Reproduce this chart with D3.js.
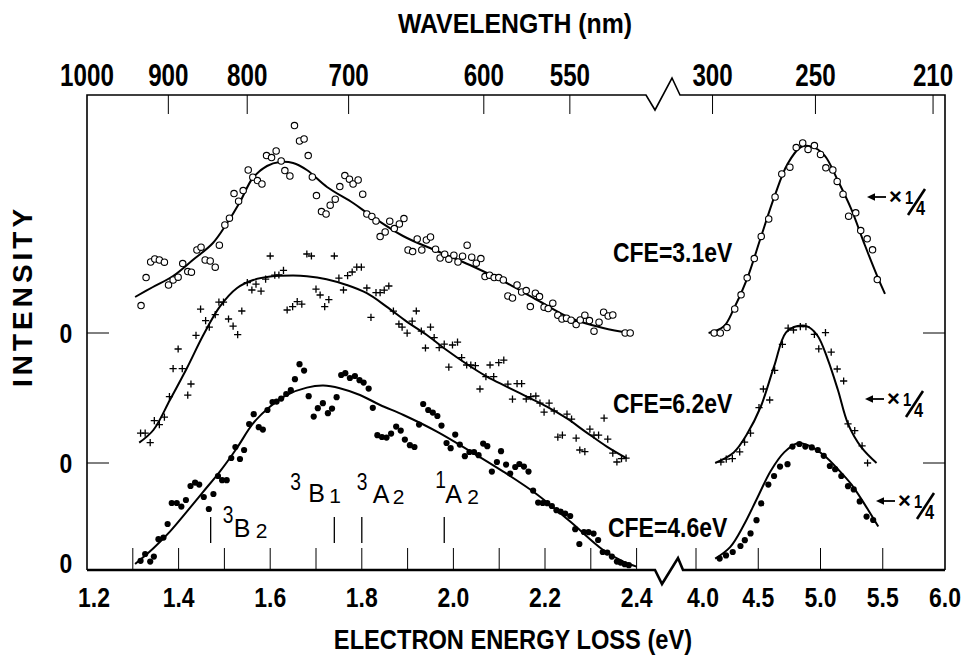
<!DOCTYPE html>
<html>
<head>
<meta charset="utf-8">
<script src="https://cdn.jsdelivr.net/npm/d3@7"></script>
<style>
  body { margin: 0; background: #fff; }
  svg text { font-family: "Liberation Sans", Arial, "DejaVu Sans", sans-serif; font-weight: bold; fill: #000; }
  svg text.state { font-weight: normal; }
</style>
</head>
<body>
<svg id="chart" width="964" height="656"></svg>
<script>
// energies in eV, intensities in arbitrary units above each curve's own zero line
var HC = 1239.84;

var lowLabels = [1.2, 1.4, 1.6, 1.8, 2.0, 2.2, 2.4];
var lowTicks = [1.3, 1.4, 1.5, 1.6, 1.7, 1.8, 1.9, 2.0, 2.1, 2.2, 2.3, 2.4];
var highLabels = [4.0, 4.5, 5.0, 5.5, 6.0];
var highTicks = [4.0, 4.5, 5.0, 5.5];
var waveLabels = [1000, 900, 800, 700, 600, 550, 300, 250, 210];

var stateNames = [["3", "B", "2"], ["3", "B", "1"], ["3", "A", "2"], ["1", "A", "2"]];
var stateEnergies = [1.47, 1.74, 1.80, 1.98];

// CFE = 3.1 eV (open circles)
var cfe31Vis = [[1.318,13.7],[1.329,27.7],[1.339,35.5],[1.348,37],[1.358,36.5],[1.369,35.4],[1.378,24],[1.388,26.5],[1.399,27.9],[1.409,34.7],[1.420,30.7],[1.428,30.4],[1.440,41.5],[1.449,42.9],[1.458,36.5],[1.469,36],[1.480,32.9],[1.489,43.9],[1.501,54],[1.511,57.4],[1.521,69.7],[1.531,65.9],[1.541,71.2],[1.552,81.5],[1.562,77.9],[1.572,76.2],[1.582,74.5],[1.592,88.7],[1.603,87.7],[1.613,91],[1.624,86],[1.632,81.2],[1.643,78.5],[1.653,103.7],[1.664,96],[1.674,97],[1.683,88.7],[1.692,78],[1.701,68.7],[1.712,60.7],[1.722,59.5],[1.731,63.9],[1.742,66.9],[1.752,73.2],[1.763,78.7],[1.773,76.9],[1.781,74.5],[1.792,76.5],[1.802,69.4],[1.811,59.5],[1.822,58.3],[1.831,56],[1.840,48.2],[1.851,50.5],[1.861,55.9],[1.871,52.2],[1.882,54.5],[1.892,57.2],[1.901,41.5],[1.911,40.7],[1.921,47],[1.931,41.5],[1.941,46.5],[1.950,48],[1.961,41.9],[1.971,37.5],[1.981,39.4],[1.990,36.9],[2.001,38.9],[2.010,35.5],[2.020,38.4],[2.030,43.9],[2.040,37.9],[2.050,34.9],[2.060,37.2],[2.069,28.2],[2.079,28.9],[2.089,27.7],[2.099,27.7],[2.109,26.5],[2.119,18.5],[2.129,17.5],[2.139,24],[2.149,20.5],[2.159,21.2],[2.168,13.2],[2.179,19.9],[2.188,18.2],[2.198,12.9],[2.207,12.2],[2.217,14.9],[2.228,8.9],[2.237,7],[2.247,7.4],[2.257,6.4],[2.268,4.2],[2.277,6.5],[2.287,8.9],[2.297,6.2],[2.307,0.9],[2.318,5.4],[2.328,10.4],[2.338,8.5],[2.348,9],[2.375,0],[2.386,0]];
var cfe31VisFit = [[1.305,18],[1.344,23],[1.388,28.5],[1.431,36.5],[1.475,45],[1.506,55],[1.534,65.5],[1.562,77.5],[1.593,83.5],[1.621,85.5],[1.650,85],[1.680,81.5],[1.724,73],[1.781,65],[1.818,59],[1.890,48.5],[1.964,41],[2.036,34],[2.108,26],[2.183,16.5],[2.255,7.5],[2.327,2.5],[2.386,0]];
var cfe31Uv = [[4.146,0],[4.195,0],[4.249,2.7],[4.311,12],[4.362,19.1],[4.411,27.6],[4.468,37.2],[4.524,48.3],[4.584,57],[4.635,68],[4.689,79.5],[4.754,82.9],[4.805,92.7],[4.857,95],[4.900,91.8],[4.951,93.7],[5.000,89.3],[5.043,82.6],[5.099,81.5],[5.134,75.8],[5.181,69.4],[5.226,58.4],[5.283,60.1],[5.323,51.2],[5.375,47.1],[5.418,41.6],[5.456,26.7]];
var cfe31UvFit = [[4.101,0],[4.222,3.2],[4.303,12],[4.411,27.2],[4.519,47.5],[4.627,67.7],[4.735,84.5],[4.843,93],[4.924,93.3],[5.032,88.8],[5.140,76.1],[5.248,61.8],[5.356,44],[5.464,27.2],[5.518,19.6]];

// CFE = 6.2 eV (plus signs)
var cfe62Vis = [[1.317,14.9],[1.327,14.9],[1.338,10.2],[1.347,21.2],[1.358,19.2],[1.369,22.9],[1.380,33.2],[1.388,47.2],[1.399,57],[1.408,47.2],[1.420,33.9],[1.427,39.5],[1.438,63.8],[1.448,76.9],[1.459,71.2],[1.467,67.9],[1.480,74.2],[1.488,80.4],[1.498,80.4],[1.509,72],[1.519,68.4],[1.529,64.2],[1.538,76],[1.550,90.2],[1.560,86.5],[1.569,89.4],[1.580,85.9],[1.590,91.9],[1.600,103.5],[1.610,93.9],[1.619,94],[1.629,96.3],[1.637,76.5],[1.649,78.2],[1.659,80.7],[1.669,79.4],[1.680,104.5],[1.690,103.5],[1.700,86.9],[1.709,84],[1.719,78.2],[1.728,81.7],[1.740,103.5],[1.750,92.4],[1.760,86.5],[1.769,93.7],[1.779,95.5],[1.789,97.9],[1.799,97.9],[1.811,87.5],[1.820,72.8],[1.831,85.2],[1.840,85.2],[1.849,86.4],[1.859,88.5],[1.869,75.9],[1.881,69.5],[1.888,67.9],[1.899,64.9],[1.910,70.9],[1.919,76],[1.930,65.9],[1.939,57.5],[1.950,67.9],[1.958,62.7],[1.969,57.7],[1.980,59.4],[1.990,47.9],[1.998,59],[2.009,60.4],[2.018,52.7],[2.029,49],[2.038,49],[2.048,48.7],[2.058,37],[2.071,43.2],[2.080,49],[2.088,43.2],[2.099,50.2],[2.110,51.4],[2.119,39.4],[2.129,31.9],[2.139,39.7],[2.149,39.7],[2.159,32],[2.169,33.2],[2.180,33.5],[2.189,29.9],[2.198,25.4],[2.209,29.9],[2.220,26],[2.228,12.9],[2.238,13.9],[2.248,24.4],[2.258,21.9],[2.268,12.4],[2.276,6.5],[2.287,5.7],[2.298,16.9],[2.307,13.9],[2.317,13.9],[2.329,22.4],[2.337,11.9],[2.348,4.9],[2.357,0.5],[2.367,2.2],[2.377,2.4]];
var cfe62VisFit = [[1.314,10.2],[1.345,16.5],[1.381,31.5],[1.418,47.4],[1.454,64],[1.490,78.2],[1.527,87.4],[1.563,91.5],[1.600,93.2],[1.650,93.7],[1.680,93.4],[1.723,91.9],[1.767,89],[1.811,84.9],[1.854,78.2],[1.898,70.7],[1.942,64],[1.985,56.5],[2.029,49.5],[2.073,43.2],[2.116,38.2],[2.160,33.2],[2.204,28.2],[2.247,22.4],[2.291,15.2],[2.335,8.2],[2.378,2.4]];
var cfe62Uv = [[4.200,0.5],[4.243,1.9],[4.292,2.2],[4.351,5.6],[4.390,10.4],[4.438,14.9],[4.506,27.7],[4.541,37],[4.592,31.5],[4.632,46.3],[4.694,59.3],[4.740,67.4],[4.783,66.5],[4.838,68.2],[4.883,68.2],[4.951,64.3],[4.986,57.1],[5.040,65.2],[5.086,55.4],[5.134,47],[5.186,41],[5.221,19.6],[5.275,16.2],[5.334,8.6],[5.378,0]];
var cfe62UvFit = [[4.154,0],[4.303,5.3],[4.411,14.6],[4.519,28],[4.627,48.3],[4.722,65.2],[4.816,68.5],[4.897,68.2],[4.978,63.5],[5.059,51.7],[5.140,36.5],[5.221,19.6],[5.329,7.8],[5.450,0]];

// CFE = 4.6 eV (filled dots)
var cfe46Vis = [[1.317,4.6],[1.327,8],[1.338,4.2],[1.346,6.7],[1.356,15.4],[1.367,16.2],[1.376,23],[1.385,33.5],[1.396,33.5],[1.406,31.7],[1.416,35],[1.426,42],[1.436,43.7],[1.445,42.7],[1.455,36.5],[1.466,30.5],[1.476,38],[1.486,47],[1.495,44.9],[1.505,44.9],[1.515,56],[1.524,61.5],[1.534,55.5],[1.543,60],[1.554,73],[1.564,77.9],[1.575,71.4],[1.584,70.2],[1.594,80],[1.605,84],[1.614,84.2],[1.624,85.7],[1.635,88],[1.645,89.9],[1.654,95.4],[1.664,102.9],[1.674,99.7],[1.684,86.9],[1.695,76.7],[1.704,80.9],[1.715,83.4],[1.726,78.4],[1.735,80.7],[1.745,86.4],[1.755,97.5],[1.764,98.4],[1.774,96],[1.785,97],[1.795,94.9],[1.804,93.7],[1.815,90.7],[1.824,81.1],[1.834,67.4],[1.844,66.5],[1.854,66.2],[1.864,68.2],[1.875,71.7],[1.885,69.7],[1.894,65.2],[1.905,62.4],[1.915,61.5],[1.925,72.7],[1.934,83],[1.945,80],[1.955,78.7],[1.965,77],[1.974,72.2],[1.985,63.5],[1.994,60.9],[2.004,67.7],[2.014,62.7],[2.025,56.9],[2.035,59],[2.045,59],[2.055,57.4],[2.065,63.2],[2.074,61.9],[2.084,49.2],[2.095,54],[2.104,59.4],[2.115,52.7],[2.124,48.2],[2.135,51.5],[2.144,53],[2.154,51.7],[2.164,49.2],[2.174,39.7],[2.185,33.7],[2.195,33.5],[2.205,33.4],[2.215,32],[2.225,29.9],[2.234,29.2],[2.244,28.2],[2.255,27],[2.266,20.4],[2.275,13],[2.285,19],[2.295,18.9],[2.306,18.2],[2.316,15],[2.326,9],[2.336,8.7],[2.346,6.7],[2.357,4.2],[2.365,3.7],[2.374,2.9],[2.383,2.4]];
var cfe46VisFit = [[1.305,3],[1.345,10.9],[1.381,19.2],[1.418,29.2],[1.454,39.2],[1.490,49.2],[1.527,60.9],[1.563,73.4],[1.600,81.7],[1.636,87.5],[1.680,91.2],[1.716,92.2],[1.752,90.9],[1.796,87.5],[1.840,82.5],[1.891,77.5],[1.964,69.2],[2.036,59.5],[2.109,49.2],[2.182,37.9],[2.255,24.2],[2.327,10],[2.371,4.2],[2.400,1.7]];
var cfe46Uv = [[4.190,5.7],[4.241,7.3],[4.295,9],[4.357,12],[4.392,14.9],[4.438,18.3],[4.486,24.9],[4.524,33.3],[4.581,42.7],[4.627,47],[4.675,51.7],[4.735,52.9],[4.775,61.7],[4.830,63],[4.878,61.7],[4.930,61.3],[4.978,60],[5.026,57.1],[5.075,52],[5.118,50.4],[5.167,47],[5.221,41.9],[5.267,40.3],[5.315,34.3],[5.370,26.7],[5.423,25]];
var cfe46UvFit = [[4.154,5.7],[4.276,11.6],[4.384,22.5],[4.492,36],[4.600,49.5],[4.708,58.8],[4.816,63.4],[4.924,61.7],[5.032,57.1],[5.140,50.4],[5.248,42.8],[5.356,32.7],[5.464,21.7]];

var panels = [
  {label: "CFE=3.1eV", offset: 118.5, mark: "ring", vis: cfe31Vis, visFit: cfe31VisFit, uv: cfe31Uv, uvFit: cfe31UvFit},
  {label: "CFE=6.2eV", offset: 53.5, mark: "plus", vis: cfe62Vis, visFit: cfe62VisFit, uv: cfe62Uv, uvFit: cfe62UvFit},
  {label: "CFE=4.6eV", offset: 0, mark: "dot", vis: cfe46Vis, visFit: cfe46VisFit, uv: cfe46Uv, uvFit: cfe46UvFit}
];

// layout
var frame = {left: 87, right: 945, top: 95, bottom: 570};
var labelPos = [{x: 613, y: 262}, {x: 613, y: 413}, {x: 608, y: 537}];
var notePos = [{x: 867, y: 201}, {x: 865, y: 403}, {x: 876, y: 505}];
var stateLayout = [
  {sup: [12, 523], main: [23, 537], sub: [45, 538]},
  {sup: [-44, 490], main: [-26, 502], sub: [-5, 503]},
  {sup: [-5, 490], main: [11, 503], sub: [31, 504]},
  {sup: [-9, 488], main: [1, 503], sub: [23, 504]}
];

var svg = d3.select("#chart");

// text squeezed horizontally to imitate the condensed lettering of the original
var ntext = function(parent, x, y, str, size, anchor, sx, cls) {
  return parent.append("text")
    .attr("class", cls || null)
    .attr("transform", "translate(" + x + "," + y + ") scale(" + (sx || 0.82) + ",1)")
    .attr("text-anchor", anchor || "start")
    .attr("font-size", size)
    .text(str);
};

var xLow = d3.scaleLinear().domain([1.2, 2.4]).range([frame.left, 636.6]);
var xHigh = d3.scaleLinear().domain([4.0, 6.0]).range([696, frame.right]);
var xE = function(e) { return e < 3 ? xLow(e) : xHigh(e); };
var y = d3.scaleLinear().domain([0, 237.5]).range([frame.bottom, frame.top]);

// frame with the axis breaks
svg.append("path")
  .attr("d", "M" + frame.left + "," + frame.bottom + "V" + frame.top + "H646L655,110L672,78L680," + frame.top +
             "H" + frame.right + "V" + frame.bottom)
  .attr("fill", "none").attr("stroke", "#000").attr("stroke-width", 1.6);
svg.append("path")
  .attr("d", "M" + frame.left + "," + frame.bottom + "H655L662,584L678,558L683," + frame.bottom + "H" + frame.right)
  .attr("fill", "none").attr("stroke", "#000").attr("stroke-width", 2.6);

// bottom ticks and labels
var bt = lowTicks.map(xLow).concat(highTicks.map(xHigh));
svg.selectAll(".btick").data(bt).enter().append("line")
  .attr("x1", d => d).attr("x2", d => d)
  .attr("y1", frame.bottom).attr("y2", frame.bottom - 22)
  .attr("stroke", "#000").attr("stroke-width", 1);

lowLabels.forEach(function(v, i) { ntext(svg, xLow(v) + (i === 0 ? 7 : 0), 607, v.toFixed(1), 28, "middle"); });
highLabels.forEach(function(v, i) { ntext(svg, xHigh(v) + (i === 0 ? 7 : 0), 607, v.toFixed(1), 28, "middle"); });

// top wavelength axis
waveLabels.forEach(function(d) {
  var x = xE(HC / d);
  if (x < frame.left + 25) {
    x = frame.left;            // 1000 nm sits on the corner in the original
  } else {
    svg.append("line").attr("x1", x).attr("x2", x).attr("y1", frame.top).attr("y2", frame.top + 19)
      .attr("stroke", "#000").attr("stroke-width", 1);
  }
  ntext(svg, x, 86, String(d), 31, "middle", 0.78);
});

// zero lines: left and right ticks, left labels
panels.forEach(function(p) {
  var yz = y(p.offset);
  if (p.offset > 0) {
    svg.append("line").attr("x1", frame.left).attr("x2", frame.left + 22).attr("y1", yz).attr("y2", yz)
      .attr("stroke", "#000").attr("stroke-width", 1);
    svg.append("line").attr("x1", frame.right - 22).attr("x2", frame.right).attr("y1", yz).attr("y2", yz)
      .attr("stroke", "#000").attr("stroke-width", 1);
  }
  ntext(svg, 66, yz + (p.offset > 0 ? 10 : 3), "0", 28, "middle");
});

// curves and markers
var ring = function(g) { g.append("circle").attr("r", 3.2).attr("fill", "#fff").attr("stroke", "#000").attr("stroke-width", 1.1); };
var dot = function(g) { g.append("circle").attr("r", 3.1).attr("fill", "#000"); };
var plus = function(g) { g.append("path").attr("d", "M-3.6,0H3.6M0,-3.6V3.6").attr("stroke", "#000").attr("stroke-width", 1.3); };
var markers = {ring: ring, dot: dot, plus: plus};

panels.forEach(function(p, i) {
  var line = d3.line()
    .x(d => xE(d[0]))
    .y(d => y(d[1] + p.offset))
    .curve(d3.curveCatmullRom.alpha(0.5));

  [p.visFit, p.uvFit].forEach(function(fit) {
    svg.append("path").attr("d", line(fit))
      .attr("fill", "none").attr("stroke", "#000").attr("stroke-width", 2);
  });

  var pts = p.vis.concat(p.uv);
  svg.append("g").selectAll("g").data(pts).enter().append("g")
    .attr("transform", d => "translate(" + xE(d[0]) + "," + y(d[1] + p.offset) + ")")
    .each(function() { markers[p.mark](d3.select(this)); });

  ntext(svg, labelPos[i].x, labelPos[i].y, p.label, 28);

  // "<- x 1/4" scale note on the UV peak
  var n = svg.append("g").attr("transform", "translate(" + notePos[i].x + "," + notePos[i].y + ")");
  n.append("path").attr("d", "M3,-4H19").attr("stroke", "#000").attr("stroke-width", 1.8);
  n.append("path").attr("d", "M0,-4L8,-7.8L8,-0.2Z").attr("fill", "#000");
  n.append("text").attr("x", 22).attr("y", 3).attr("font-size", 22).attr("font-weight", "normal").text("\u00d7");
  ntext(n, 38, 3, "1", 18);
  n.append("path").attr("d", "M41,14L58,-12").attr("stroke", "#000").attr("stroke-width", 2.6);
  ntext(n, 49, 14, "4", 20);
});

// state markers
stateEnergies.forEach(function(e, i) {
  var x = xLow(e), L = stateLayout[i], nm = stateNames[i];
  svg.append("line").attr("x1", x).attr("x2", x).attr("y1", 517).attr("y2", 543)
    .attr("stroke", "#000").attr("stroke-width", 1.3);
  ntext(svg, x + L.sup[0], L.sup[1], nm[0], 24, "start", 0.8, "state");
  ntext(svg, x + L.main[0], L.main[1], nm[1], 25, "start", 1, "state");
  ntext(svg, x + L.sub[0], L.sub[1], nm[2], 21, "start", 1, "state");
});

// axis titles
ntext(svg, 515, 33, "WAVELENGTH (nm)", 27, "middle", 0.92);
ntext(svg, 513, 649, "ELECTRON ENERGY LOSS (eV)", 28, "middle", 0.845);
svg.append("text").attr("transform", "translate(32,296) rotate(-90)").attr("text-anchor", "middle")
  .attr("font-size", 28).attr("letter-spacing", 4).text("INTENSITY");
</script>
</body>
</html>
